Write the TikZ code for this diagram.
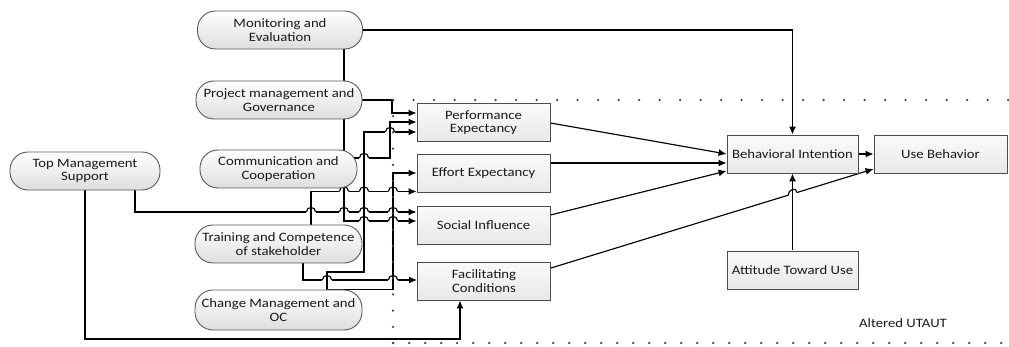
\documentclass[tikz,border=0pt]{standalone}
\usepackage{fontspec}
\setmainfont{Carlito}[FakeStretch=1.15]
\usetikzlibrary{arrows.meta,calc,backgrounds}

% small semicircular jump of a horizontal wire over a vertical one
\newcommand\wirehop[1]{%
  \fill[white] ($#1+(-4.6,-1.4)$) rectangle ($#1+(4.6,1.4)$);
  \draw[wire] ($#1+(0,-1.8)$) -- ($#1+(0,1.8)$);
  \draw[wire] ($#1+(-4.6,0)$) .. controls ($#1+(-4.6,-6)$) and ($#1+(4.6,-6)$) .. ($#1+(4.6,0)$);}

\begin{document}
\begin{tikzpicture}[x=1pt,y=-1pt,
  font=\fontsize{12.8}{13.5}\selectfont,
  wire/.style={draw=black, line width=1.15pt},
  arr/.style={wire, -{Latex[length=8pt,width=7pt]}},
  factor/.style={rectangle, rounded corners=18pt, draw=black!65, line width=0.9pt,
    top color=white, bottom color=black!13, minimum height=38pt, inner sep=0pt,
    align=center, text=black!90},
  construct/.style={rectangle, draw=black!70, line width=0.9pt,
    top color=black!2, bottom color=black!9, minimum width=133pt,
    minimum height=38pt, inner sep=0pt, align=center, text=black!90},
  dotrule/.style={line width=2.5pt, line cap=round, dash pattern=on 0pt off #1, draw=black!75},
]
\useasboundingbox (0,0) rectangle (1009,347);

% ---- factors (left column) ----
\node[factor, minimum width=165pt] (mon) at (280,30) {Monitoring and\\Evaluation};
\node[factor, minimum width=166pt] (pmg) at (279,100) {Project management and\\Governance};
\node[factor, minimum width=157pt] (com) at (278.5,169) {Communication and\\Cooperation};
\node[factor, minimum width=150pt] (tms) at (85,171) {Top Management\\Support};
\node[factor, minimum width=167pt] (trn) at (278.5,244) {Training and Competence\\of stakeholder};
\node[factor, minimum width=167pt, minimum height=40pt] (chg) at (278.5,310) {Change Management and\\OC};

% ---- UTAUT constructs ----
\node[construct] (pe) at (483.5,122.5) {Performance\\Expectancy};
\node[construct] (ee) at (483.5,173.5) {Effort Expectancy};
\node[construct] (si) at (483.5,225.5) {Social Influence};
\node[construct] (fc) at (484,281) {Facilitating\\Conditions};
\node[construct, minimum width=131pt] (bi) at (792.5,154) {Behavioral Intention};
\node[construct] (ub) at (940.5,154) {Use Behavior};
\node[construct, minimum width=131pt] (att) at (792.5,270) {Attitude Toward Use};
\node[text=black!90] (lbl) at (903,323) {Altered UTAUT};

% ---- ports on the construct boxes ----
\coordinate (pe-a) at ($(pe.west)+(0,-9.5)$);
\coordinate (pe-b) at ($(pe.west)+(0,-0.5)$);
\coordinate (pe-c) at ($(pe.west)+(0,9.5)$);
\coordinate (ee-a) at ($(ee.west)+(0,-0.5)$);
\coordinate (ee-b) at ($(ee.west)+(0,18)$);
\coordinate (si-a) at ($(si.west)+(0,-13.5)$);
\coordinate (si-b) at ($(si.west)+(0,-4.5)$);
\coordinate (fc-a) at ($(fc.west)+(0,-1)$);
\coordinate (fc-p) at ($(fc.south)+(-24,0)$);

% ---- ports on the factor shapes ----
\coordinate (com-o) at ($(com.east)+(-4,-11)$);
\coordinate (chg-o) at ($(chg.north)+(48.5,0)$);
\coordinate (trn-o) at ($(trn.north)+(32.5,0)$);
\coordinate (trn-p) at ($(trn.south)+(24.5,0)$);
\coordinate (tms-o) at ($(tms.south)+(50,0)$);

% ---- routing lanes ----
\coordinate (xm) at (344,0);
\coordinate (xg) at (364,0);
\coordinate (xc) at (390,0);
\coordinate (xp) at (392,0);
\coordinate (xe) at (393,0);
\coordinate (yk) at (0,272);
\coordinate (yb) at (0,339);

% ---- boundary of the UTAUT block ----
\coordinate (fr-tl) at (393,100);
\coordinate (fr-tr) at (1009,100);
\coordinate (fr-bl) at (393,343);
\coordinate (fr-br) at (1009,343);

\begin{scope}[on background layer]
  \fill[white] (0,0) rectangle (1009,347);

  % factor connectors
  \draw[arr] (mon.east) -| (bi.north);
  \draw[arr] (mon.south -| xm) -- (xm |- si-b) -- (si-b);
  \draw[arr] (pmg.east) -- (pmg.east -| xp) -- (xp |- pe-a) -- (pe-a);
  \draw[arr] (com-o) -- (com-o -| xc) -- (xc |- pe-b) -- (pe-b);
  \draw[arr] (chg-o) -- (chg-o |- yk) -- (xg |- yk) -- (xg |- pe-c) -- (pe-c);
  \draw[arr] (chg-o) -- (chg-o -| xe) -- (xe |- ee-a) -- (ee-a);
  \draw[arr] (trn-o) -- (trn-o |- ee-b) -- (ee-b);
  \draw[arr] (tms-o) -- (tms-o |- si-a) -- (si-a);
  \draw[arr] (trn-p) -- (trn-p |- fc-a) -- (fc-a);
  \draw[arr] (tms.south) -- (tms.south |- yb) -- (fc-p |- yb) -- (fc-p);

  % jumps where horizontal runs cross vertical lanes
  \wirehop{(xc |- pe-c)}
  \wirehop{(xg |- com-o)}
  \wirehop{(xm |- ee-b)}
  \wirehop{(xg |- ee-b)}
  \wirehop{(xe |- ee-b)}
  \wirehop{(trn-o |- si-a)}
  \wirehop{(xm |- si-a)}
  \wirehop{(xg |- si-a)}
  \wirehop{(xe |- si-a)}
  \wirehop{(xg |- si-b)}
  \wirehop{(xe |- si-b)}
  \wirehop{(chg-o |- fc-a)}
  \wirehop{(xe |- fc-a)}

  % UTAUT relations
  \draw[arr] ($(pe.east)+(0,0.5)$) -- (bi.west);
  \draw[arr] ($(ee.east)+(0,-10.5)$) -- ($(bi.west)+(0,9)$);
  \draw[arr] ($(si.east)+(0,-10.5)$) -- ($(bi.west)+(0,17)$);
  \draw[arr] (bi.east) -- (ub.west);
  \draw[arr] (att.north) -- (bi.south);

  \coordinate (fc-q) at ($(fc.east)+(0,-13)$);
  \coordinate (ub-q) at ($(ub.west)+(0,15)$);
  \coordinate (hx) at (intersection of fc-q--ub-q and att.north--bi.south);
  \coordinate (hA) at ($(hx)!4.6pt!(fc-q)$);
  \coordinate (hB) at ($(hx)!4.6pt!(ub-q)$);
  \draw[wire] (fc-q) -- (hA) .. controls ($(hA)+(0,-6)$) and ($(hB)+(0,-6)$) .. (hB);
  \draw[arr] (hB) -- (ub-q);

  % dotted frame
  \draw[dotrule=20.5pt] (fr-tl) -- (fr-tr);
  \draw[dotrule=16.2pt] (fr-tl) -- (fr-bl);
  \draw[dotrule=16pt] (fr-bl) -- (fr-br);
\end{scope}
\end{tikzpicture}
\end{document}
